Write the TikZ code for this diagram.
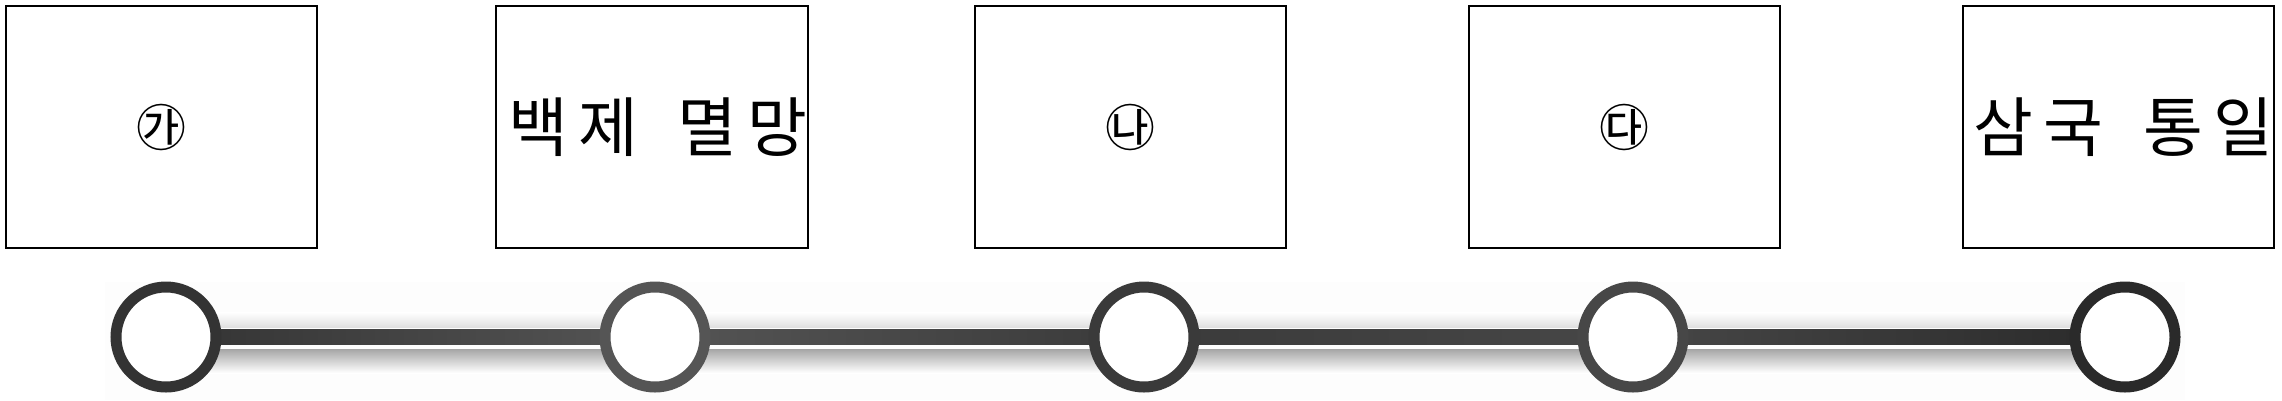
\documentclass[tikz,border=0pt]{standalone}
\usepackage{fontspec}
\setmainfont{Noto Sans CJK KR}
\usetikzlibrary{calc}
\definecolor{ringA}{HTML}{333333}
\definecolor{ringB}{HTML}{555555}
\definecolor{ringC}{HTML}{3A3A3A}
\definecolor{ringD}{HTML}{474747}
\definecolor{ringE}{HTML}{2A2A2A}
\tikzset{
  evbox/.style={draw=black,line width=2pt,fill=white,minimum width=311pt,minimum height=242pt,inner sep=0pt,font=\fontsize{65}{70}\selectfont},
  markbox/.style={evbox,font=\fontsize{50}{60}\selectfont},
  ring/.style={circle,draw=#1,line width=11pt,fill=white,minimum size=100pt,inner sep=0pt},
}
\begin{document}
\begin{tikzpicture}[x=1pt,y=-1pt]
\useasboundingbox (0,0) rectangle (2282,400);
\fill[white] (0,0) rectangle (2282,400);
% boxes
\node[markbox] (b1) at (161.5,127) {㉮};
\node[evbox] (b2) at (652,127) {\hspace{12pt}백\kern10pt 제\hspace{40pt}멸\kern10pt 망};
\node[markbox] (b3) at (1130,127) {㉯};
\node[markbox] (b4) at (1624.5,127) {㉰};
\node[evbox] (b5) at (2118.5,127) {\hspace{10pt}삼\kern10pt 국\hspace{40pt}통\kern10pt 일};
% timeline coordinates
\coordinate (p1) at (166,337);
\coordinate (p2) at (655,337);
\coordinate (p3) at (1144,337);
\coordinate (p4) at (1633,337);
\coordinate (p5) at (2125,337);
% faint background tray
\fill[black!0.7] (105,282) rectangle (2185,400);
% tube highlight and shadow
\shade[top color=white,bottom color=black!12] ($(p1)+(0,-25)$) rectangle ($(p5)+(0,-10)$);
\shade[top color=black!35,bottom color=white] ($(p1)+(0,12)$) rectangle ($(p5)+(0,36)$);
% line segments
\shade[left color=ringA,right color=ringB] ($(p1)+(0,-7.5)$) rectangle ($(p2)+(0,7.5)$);
\shade[left color=ringB,right color=ringC] ($(p2)+(0,-7.5)$) rectangle ($(p3)+(0,7.5)$);
\shade[left color=ringC,right color=ringD] ($(p3)+(0,-7.5)$) rectangle ($(p4)+(0,7.5)$);
\shade[left color=ringD,right color=ringE] ($(p4)+(0,-7.5)$) rectangle ($(p5)+(0,7.5)$);
% rings
\node[ring=ringA] (c1) at (p1) {};
\node[ring=ringB] (c2) at (p2) {};
\node[ring=ringC] (c3) at (p3) {};
\node[ring=ringD] (c4) at (p4) {};
\node[ring=ringE] (c5) at (p5) {};
\end{tikzpicture}
\end{document}
